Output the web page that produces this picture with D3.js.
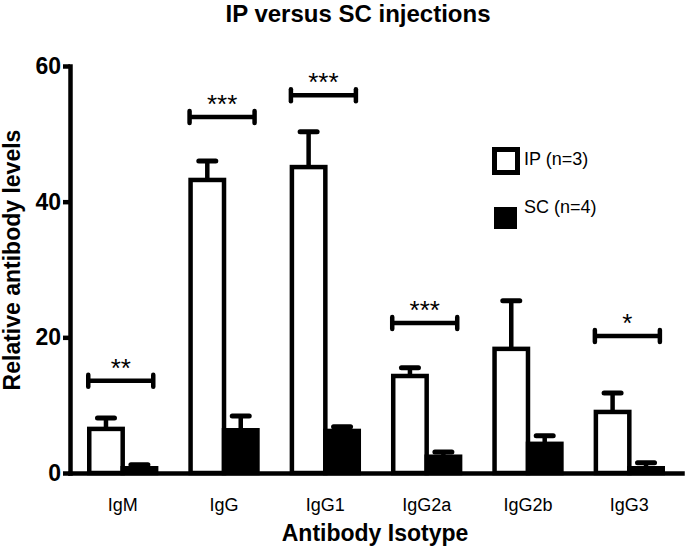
<!DOCTYPE html>
<html>
<head>
<meta charset="utf-8">
<script src="https://cdn.jsdelivr.net/npm/d3@7"></script>
<style>
    body { margin: 0; background: #fff; }
    svg { display: block; font-family: "Liberation Sans", Arial, sans-serif; }
</style>
</head>
<body>
<svg></svg>
<script>
// data
const isotypes = ["IgM", "IgG", "IgG1", "IgG2a", "IgG2b", "IgG3"];
const groups = ["IP", "SC"];
const groupN = [3, 4];
const ipMeans = [6.5, 43.2, 45.1, 14.3, 18.3, 9.0];
const ipErr = [1.6, 2.8, 5.2, 1.2, 7.1, 2.8];
const scMeans = [0.7, 6.3, 6.2, 2.4, 4.3, 0.7];
const scErr = [0.5, 2.1, 0.6, 0.7, 1.2, 0.8];
const sigIsotypes = ["IgM", "IgG", "IgG1", "IgG2a", "IgG3"];
const sigLabels = ["**", "***", "***", "***", "*"];
const sigLevels = [13.6, 52.5, 55.7, 22.1, 20.2];
const yTicks = [0, 20, 40, 60];

const width = 686;
const height = 550;
const plotLeft = 70;
const plotRight = 682;
const plotBottom = 473;
const plotTop = 66;
const lw = 4.5;

let svg = d3.select("svg")
    .attr("width", width)
    .attr("height", height);

let rows = isotypes.map((name, i) => ({
    name,
    values: [
        { group: "IP", mean: ipMeans[i], err: ipErr[i] },
        { group: "SC", mean: scMeans[i], err: scErr[i] }
    ]
}));

let scX = d3.scaleBand()
    .domain(isotypes)
    .range([plotLeft, plotRight])
    .paddingInner(0.34)
    .paddingOuter(0.19);

let scSub = d3.scaleBand()
    .domain(groups)
    .range([0, scX.bandwidth()]);

let scY = d3.scaleLinear()
    .domain([0, 60])
    .range([plotBottom, plotTop]);

function createChart() {
    let g = svg.selectAll(".grp")
        .data(rows)
        .enter()
        .append("g")
        .attr("class", "grp")
        .attr("transform", d => `translate(${scX(d.name)}, 0)`);

    let bars = g.selectAll(".bar")
        .data(d => d.values)
        .enter()
        .append("g");

    // error bars (upper only) drawn first so the bar outline sits on top
    bars.append("line")
        .attr("x1", d => scSub(d.group) + scSub.bandwidth() / 2)
        .attr("x2", d => scSub(d.group) + scSub.bandwidth() / 2)
        .attr("y1", d => scY(d.mean))
        .attr("y2", d => scY(d.mean + d.err))
        .attr("stroke", "#000")
        .attr("stroke-width", lw);
    bars.append("line")
        .attr("x1", d => scSub(d.group) + scSub.bandwidth() / 2 - 8.5)
        .attr("x2", d => scSub(d.group) + scSub.bandwidth() / 2 + 8.5)
        .attr("y1", d => scY(d.mean + d.err))
        .attr("y2", d => scY(d.mean + d.err))
        .attr("stroke", "#000")
        .attr("stroke-width", 5)
        .attr("stroke-linecap", "round");

    bars.append("rect")
        .attr("x", d => scSub(d.group))
        .attr("y", d => scY(d.mean))
        .attr("width", scSub.bandwidth())
        .attr("height", d => scY(0) - scY(d.mean))
        .attr("fill", d => d.group == "IP" ? "#fff" : "#000")
        .attr("stroke", "#000")
        .attr("stroke-width", lw);
}

function createSig() {
    sigIsotypes.forEach((name, i) => {
        let x0 = scX(name) - 1;
        let x1 = x0 + 65;
        let y = scY(sigLevels[i]);
        svg.append("line")
            .attr("x1", x0).attr("x2", x1)
            .attr("y1", y).attr("y2", y)
            .attr("stroke", "#000").attr("stroke-width", lw);
        [x0, x1].forEach(x => {
            svg.append("line")
                .attr("x1", x).attr("x2", x)
                .attr("y1", y - 6).attr("y2", y + 6)
                .attr("stroke", "#000").attr("stroke-width", lw)
                .attr("stroke-linecap", "round");
        });
        svg.append("text")
            .attr("x", (x0 + x1) / 2)
            .attr("y", y - 4)
            .attr("text-anchor", "middle")
            .style("font-size", "26px")
            .text(sigLabels[i]);
    });
}

function createAxis() {
    let axisX = d3.axisBottom(scX).tickSize(0).tickSizeOuter(0).tickPadding(25);
    let axisY = d3.axisLeft(scY).tickValues(yTicks).tickSize(7).tickSizeOuter(0).tickPadding(2);

    let gx = svg.append("g")
        .attr("transform", `translate(0, ${plotBottom})`)
        .call(axisX);
    gx.select(".domain").attr("stroke-width", lw).attr("stroke-linecap", "square");
    gx.selectAll("text")
        .attr("fill", "#000")
        .style("font-size", "18px")
        .style("font-family", "Liberation Sans, Arial, sans-serif");

    let gy = svg.append("g")
        .attr("transform", `translate(${plotLeft}, 0)`)
        .call(axisY);
    gy.select(".domain").attr("stroke-width", lw).attr("stroke-linecap", "square");
    gy.selectAll(".tick line").attr("stroke-width", lw);
    gy.selectAll("text")
        .attr("fill", "#000")
        .style("font-size", "23px")
        .style("font-weight", "bold")
        .style("font-family", "Liberation Sans, Arial, sans-serif");
}

function createLabels() {
    svg.append("text")
        .attr("x", 358).attr("y", 22)
        .attr("text-anchor", "middle")
        .style("font-size", "24px").style("font-weight", "bold")
        .text("IP versus SC injections");
    svg.append("text")
        .attr("x", 375).attr("y", 541)
        .attr("text-anchor", "middle")
        .style("font-size", "23px").style("font-weight", "bold")
        .text("Antibody Isotype");
    svg.append("text")
        .attr("transform", "translate(20, 260) rotate(-90)")
        .attr("text-anchor", "middle")
        .style("font-size", "23px").style("font-weight", "bold")
        .text("Relative antibody levels");
}

function createLegend() {
    svg.append("rect")
        .attr("x", 494.5).attr("y", 149.5)
        .attr("width", 23).attr("height", 23)
        .attr("fill", "#fff").attr("stroke", "#000").attr("stroke-width", 5);
    svg.append("rect")
        .attr("x", 494).attr("y", 207)
        .attr("width", 23).attr("height", 22)
        .attr("fill", "#000");
    let ty = [165, 213];
    groups.forEach((gr, i) => {
        svg.append("text")
            .attr("x", 524).attr("y", ty[i])
            .style("font-size", "18px")
            .text(`${gr} (n=${groupN[i]})`);
    });
}

createChart();
createSig();
createAxis();
createLabels();
createLegend();
</script>
</body>
</html>
